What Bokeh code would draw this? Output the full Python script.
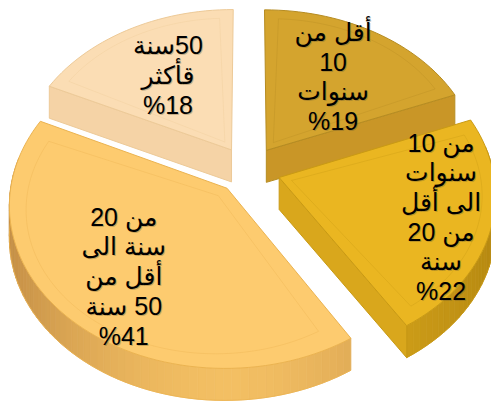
import numpy as np
from bokeh.plotting import figure
from bokeh.models import Range1d, ColumnDataSource
from bokeh.embed import file_html
from bokeh.resources import INLINE
from bokeh.core.properties import value

# ---------------- data ----------------
categories = [
    "أقل من 10 سنوات",
    "من 10 سنوات الى أقل من 20 سنة",
    "من 20 سنة الى أقل من 50 سنة",
    "50سنة قأكثر",
]
shares = [19, 22, 41, 18]
label_lines = [
    ["أقل من", "10", "سنوات"],
    ["من 10", "سنوات", "الى أقل", "من 20", "سنة"],
    ["من 20", "سنة الى", "أقل من", "50 سنة"],
    ["50سنة", "قأكثر"],
]

# ---------------- style ----------------
top_colors = ["#D4A42E", "#EAB621", "#FDCB6F", "#FBDDB4"]
side_colors = ["#C99627", "#D9A71C", "#F3BF63", "#F5D3A6"]
wall_dark = ["#A97D18", "#B48710", "#C48E45", "#D6B27E"]
edge_colors = ["#B68C22", "#C99A14", "#EBB350", "#EDCA98"]
label_radius = [0.6, 0.77, 0.68, 0.6]

W, H = 491, 402
CX, CY = 248.0, 169.5
R, K, P = 214.0, 0.75, 0.1
DEPTH = 32.0
EXPLODE = 0.15
FONT = "Liberation Sans, DejaVu Sans"
FONT_SIZE = "25px"
LINE_H = 29.7


def proj(x, y, h=0.0):
    x = np.asarray(x, dtype=float)
    y = np.asarray(y, dtype=float)
    s = 1 - P * y
    return CX + R * x * s, CY - R * K * y * s + h * DEPTH


def lerp_color(c1, c2, t):
    a = [int(c1[i:i + 2], 16) for i in (1, 3, 5)]
    b = [int(c2[i:i + 2], 16) for i in (1, 3, 5)]
    return "#%02x%02x%02x" % tuple(int(round(a[i] + (b[i] - a[i]) * t)) for i in range(3))


def rtl(s):
    # right-to-left reading order for lines that start with a number followed by Arabic
    has_arabic = any("\u0600" <= c <= "\u06ff" for c in s)
    return "\u200f" + s if (s[:1].isdigit() and has_arabic) else s


p = figure(width=W, height=H, output_backend="svg", toolbar_location=None,
           x_range=Range1d(0, W), y_range=Range1d(H, 0),
           x_axis_type=None, y_axis_type=None, min_border=0,
           background_fill_color="white", border_fill_color="white")
p.outline_line_color = None
p.grid.visible = False

total = float(sum(shares))
cum = np.concatenate([[0.0], np.cumsum(shares)]) / total * 360.0
starts = np.radians(90.0 - cum[:-1])
ends = np.radians(90.0 - cum[1:])

draw_order = [3, 0, 2, 1]
text_x, text_y, text_s = [], [], []

for i in draw_order:
    a0, a1 = starts[i], ends[i]
    m = 0.5 * (a0 + a1)
    ox, oy = EXPLODE * np.cos(m), EXPLODE * np.sin(m)
    n = max(8, int(abs(a0 - a1) / np.radians(2.0)))
    angs = np.linspace(a0, a1, n)
    ax = ox + np.cos(angs)
    ay = oy + np.sin(angs)

    # outer wall, shaded segments
    wxs, wys, wcs = [], [], []
    vis = []
    for j in range(n - 1):
        am = 0.5 * (angs[j] + angs[j + 1])
        if np.sin(am) < 0.2:
            tx0, ty0 = proj(ax[j:j + 2], ay[j:j + 2], 0)
            bx0, by0 = proj(ax[j:j + 2], ay[j:j + 2], 1)
            wxs.append([tx0[0], tx0[1], bx0[1], bx0[0]])
            wys.append([ty0[0], ty0[1], by0[1], by0[0]])
            t = abs(np.cos(am)) ** 1.6
            wcs.append(lerp_color(side_colors[i], wall_dark[i], t))
            vis.append(j)
    if wxs:
        p.patches(xs=wxs, ys=wys, fill_color=wcs, line_color=wcs, line_width=0.8)
        j0, j1 = vis[0], vis[-1] + 1
        bx, by = proj(ax[j0:j1 + 1], ay[j0:j1 + 1], 1)
        p.line(bx, by, line_color=edge_colors[i], line_width=1, line_alpha=0.8)

    # radial cut faces (only those facing the viewer)
    for e, nrm in ((a0, a0 + np.pi / 2), (a1, a1 - np.pi / 2)):
        if np.sin(nrm) < -0.05:
            px = [ox, ox + np.cos(e), ox + np.cos(e), ox]
            py = [oy, oy + np.sin(e), oy + np.sin(e), oy]
            hh = [0, 0, 1, 1]
            qx, qy = [], []
            for xx, yy, h in zip(px, py, hh):
                sx, sy = proj(xx, yy, h)
                qx.append(float(sx)); qy.append(float(sy))
            p.patch(qx, qy, fill_color=side_colors[i], line_color=edge_colors[i],
                    line_width=1)

    # top face
    fx, fy = proj(np.concatenate([[ox], ax]), np.concatenate([[oy], ay]), 0)
    p.patch(list(fx), list(fy), fill_color=top_colors[i], line_color=edge_colors[i],
            line_width=1)

    # subtle bevel line inside the top face
    shrink = 0.06
    iox, ioy = ox + shrink * np.cos(m), oy + shrink * np.sin(m)
    da = np.sign(a0 - a1) * np.radians(2.5)
    iang = np.linspace(a0 - da, a1 + da, n)
    ix = np.concatenate([[iox], iox + 0.88 * np.cos(iang), [iox]])
    iy = np.concatenate([[ioy], ioy + 0.88 * np.sin(iang), [ioy]])
    bx, by = proj(ix, iy, 0)
    p.line(bx, by, line_color=edge_colors[i], line_width=1, line_alpha=0.35)

    # labels
    lines = label_lines[i] + ["%" + str(shares[i])]
    lx, ly = proj(ox + label_radius[i] * np.cos(m), oy + label_radius[i] * np.sin(m), 0)
    nl = len(lines)
    for k, s in enumerate(lines):
        text_x.append(float(lx))
        text_y.append(float(ly) + (k - (nl - 1) / 2.0) * LINE_H)
        text_s.append(rtl(s))

src = ColumnDataSource(dict(x=text_x, y=text_y, t=text_s))
p.text(x="x", y="y", text="t", source=src, text_font=value(FONT),
       text_font_size=FONT_SIZE, text_color="#6b5a30", text_alpha=0.35,
       text_align="center", text_baseline="middle", x_offset=1, y_offset=1)
p.text(x="x", y="y", text="t", source=src, text_font=value(FONT),
       text_font_size=FONT_SIZE, text_color="black", text_align="center",
       text_baseline="middle")

open("out.html", "w").write(file_html(p, INLINE))
